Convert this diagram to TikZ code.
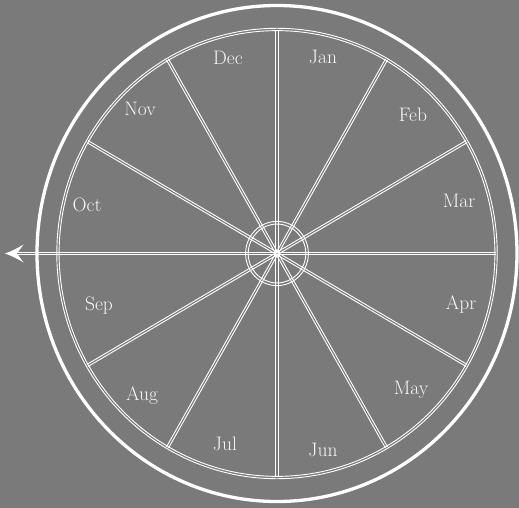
\documentclass[tikz,border=0pt]{standalone}
\usetikzlibrary{calc}
\definecolor{bg}{RGB}{122,122,122}
\definecolor{fg}{RGB}{255,255,255}
\definecolor{txt}{RGB}{246,246,246}
\begin{document}
\begin{tikzpicture}[x=1pt,y=-1pt,
  rim/.style={draw=fg, line width=3.3pt},
  thinline/.style={draw=fg, line width=0.9pt},
  month/.style={text=txt, font=\fontsize{19.5}{21}\selectfont, inner sep=0pt, text height=0.68em, text depth=0pt, anchor=center}]
\fill[bg] (0,0) rectangle (519,508);
\useasboundingbox (0,0) rectangle (519,508);
\coordinate (c) at (277,253.5);
% outer rim
\draw[rim] (c) ellipse [x radius=240, y radius=248];
\begin{scope}[shift={(c)}, yscale=1.0228]
  % inner double ring
  \draw[thinline] (0,0) circle [radius=217.9];
  \draw[thinline] (0,0) circle [radius=220.2];
  % hub double ring
  \draw[thinline] (0,0) circle [radius=28.8];
  \draw[thinline] (0,0) circle [radius=31.4];
  % spokes (double)
  \foreach \a in {30,60,...,150} {
    \draw[thinline] ($(\a:219)+(\a+90:1.15)$) -- ($(\a+180:219)+(\a+90:1.15)$);
    \draw[thinline] ($(\a:219)+(\a-90:1.15)$) -- ($(\a+180:219)+(\a-90:1.15)$);
  }
  % horizontal spoke extending to the arrow
  \coordinate (re) at (219,0);
  \coordinate (le) at (-259,0);
  \draw[thinline] ($(re)+(0,1.15)$) -- ($(le)+(0,1.15)$);
  \draw[thinline] ($(re)+(0,-1.15)$) -- ($(le)+(0,-1.15)$);
\end{scope}
% arrow head
\fill[fg] (5,253.5) .. controls (12,251) and (18,248) .. (23.5,244.5)
  .. controls (19.5,249) .. (17,253.5)
  .. controls (19.5,258) .. (23.5,262.5)
  .. controls (18,259) and (12,256) .. (5,253.5) -- cycle;
% month labels
\node[month] (jan) at (323,60) {Jan};
\node[month] (feb) at (413,118) {Feb};
\node[month] (mar) at (459,204) {Mar};
\node[month] (apr) at (461,306) {Apr};
\node[month] (may) at (411,391) {May};
\node[month] (jun) at (323,453) {Jun};
\node[month] (jul) at (225,447) {Jul};
\node[month] (aug) at (142,397) {Aug};
\node[month] (sep) at (99,307) {Sep};
\node[month] (oct) at (87,208) {Oct};
\node[month] (nov) at (140,112) {Nov};
\node[month] (dec) at (228,61) {Dec};
\end{tikzpicture}
\end{document}
